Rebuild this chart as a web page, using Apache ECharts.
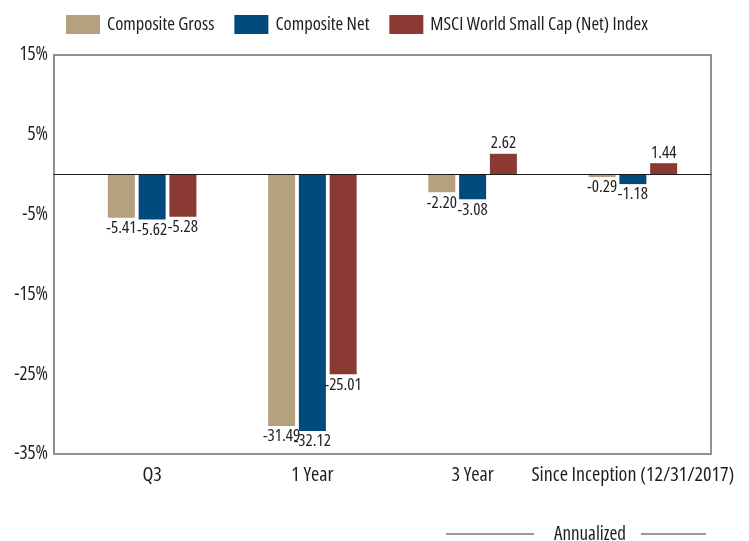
<!DOCTYPE html>
<html>
<head>
<meta charset="utf-8">
<script src="https://cdn.jsdelivr.net/npm/echarts@6/dist/echarts.min.js"></script>
<style>
html,body{margin:0;padding:0;background:#fff;}
#chart{width:749px;height:541px;}
</style>
</head>
<body>
<div id="chart"></div>
<script>
var categories = ['Q3', '1 Year', '3 Year', 'Since Inception (12/31/2017)'];
var seriesNames = ['Composite Gross', 'Composite Net', 'MSCI World Small Cap (Net) Index'];
var compositeGross = [-5.41, -31.49, -2.20, -0.29];
var compositeNet = [-5.62, -32.12, -3.08, -1.18];
var msciIndex = [-5.28, -25.01, 2.62, 1.44];
var yMin = -35, yMax = 15, yStep = 5;
var footerText = 'Annualized';

var FONT = '"Open Sans", "Roboto Condensed", sans-serif';
var FSTYLE = 'condensed';
var TXT = '#1e1e1e';
var colors = ['#b5a080', '#004a7c', '#8b3a33'];

function makeData(arr) {
  return arr.map(function (v) {
    return { value: v, label: { position: v < 0 ? 'bottom' : 'top' } };
  });
}

var chart = echarts.init(document.getElementById('chart'), null, { renderer: 'canvas' });
var allData = [compositeGross, compositeNet, msciIndex];
var series = allData.map(function (arr, i) {
  return {
    name: seriesNames[i], type: 'bar', xAxisIndex: 1, yAxisIndex: 1,
    barWidth: 27, barGap: '14%', itemStyle: { color: colors[i] },
    label: { show: true, distance: 2, color: TXT, fontFamily: FONT, fontStyle: FSTYLE, fontSize: 17,
      formatter: function (p) { return p.value.toFixed(2); } },
    data: makeData(arr), z: 2
  };
});

chart.setOption({
  animation: false,
  backgroundColor: '#fff',
  textStyle: { fontFamily: FONT, fontStyle: FSTYLE },
  legend: {
    left: 66, top: 15, padding: 0, icon: 'rect', itemWidth: 34, itemHeight: 19, itemGap: 20,
    textStyle: { fontFamily: FONT, fontStyle: FSTYLE, fontSize: 18.5, color: TXT, padding: [0, 0, 0, 2] }, data: seriesNames
  },
  grid: [
    { left: 54, right: 38, top: 55, bottom: 87, show: true, borderColor: '#6e6e6e', borderWidth: 1.5, backgroundColor: 'transparent' },
    { left: 72, right: 36, top: 55, bottom: 87 }
  ],
  xAxis: [
    { gridIndex: 0, type: 'category', data: categories,
      axisLine: { onZero: true, lineStyle: { color: '#1a1a1a', width: 1.2 } },
      axisTick: { show: false }, axisLabel: { show: false }, splitLine: { show: false }, z: 3 },
    { gridIndex: 1, type: 'category', data: categories,
      axisLine: { show: false, onZero: false }, axisTick: { show: false },
      axisLabel: { margin: 11, color: TXT, fontFamily: FONT, fontStyle: FSTYLE, fontSize: 20, interval: 0 },
      splitLine: { show: false } }
  ],
  yAxis: [
    { gridIndex: 0, type: 'value', min: yMin, max: yMax, interval: yStep,
      axisLine: { show: false }, axisTick: { show: false }, splitLine: { show: false },
      axisLabel: { margin: 6, color: TXT, fontFamily: FONT, fontStyle: FSTYLE, fontSize: 19,
        formatter: function (v) { return (v % 10 === 0) ? '' : v + '%'; } } },
    { gridIndex: 1, type: 'value', min: yMin, max: yMax, interval: yStep, show: false, splitLine: { show: false } }
  ],
  series: series,
  graphic: [
    { type: 'line', shape: { x1: 446, y1: 534, x2: 534, y2: 534 }, style: { stroke: '#333', lineWidth: 1 } },
    { type: 'line', shape: { x1: 641, y1: 534, x2: 706, y2: 534 }, style: { stroke: '#333', lineWidth: 1 } },
    { type: 'text', x: 590, y: 535, style: { text: footerText, fill: TXT, font: FSTYLE + ' 19px ' + FONT, textAlign: 'center', textVerticalAlign: 'middle' } }
  ]
});
</script>
</body>
</html>
